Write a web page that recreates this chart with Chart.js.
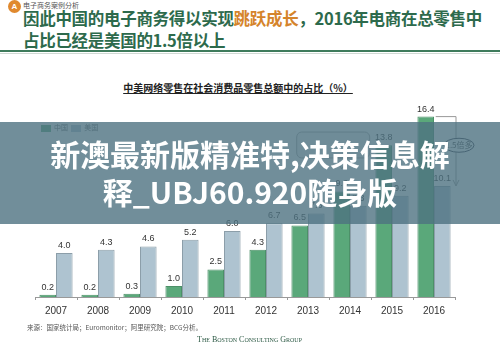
<!DOCTYPE html>
<html lang="zh">
  <head>
    <meta charset="UTF-8">
    <title>中美网络零售占比</title>
    <script src="https://cdn.jsdelivr.net/npm/chart.js"></script>
    <style>
      body { margin: 0; width: 500px; height: 346px; background: #fff; position: relative; overflow: hidden;
             font-family: "Liberation Sans", "Noto Sans CJK SC", sans-serif; }
      #badge { position: absolute; left: 8px; top: 0px; width: 13px; height: 13px; border-radius: 50%;
               background: #E0892E; color: #fff; font-size: 8px; font-weight: bold; text-align: center; line-height: 13px; }
      #kicker { position: absolute; left: 23px; top: 0px; font-size: 7px; color: #555; font-family: "Noto Sans CJK SC"; }
      #headline { position: absolute; left: 23px; top: 7px; font-size: 16.5px; line-height: 22px; font-weight: bold;
                  color: #2D6A4C; font-family: "Noto Sans CJK SC"; white-space: nowrap; letter-spacing: -0.3px; }
      #headline span { color: #D5842B; }
      #rule { position: absolute; left: 0; top: 50px; width: 500px; height: 2px; background: #3E7B5C; }
      #rule2 { position: absolute; left: 0; top: 53px; width: 500px; height: 1px; background: #cfd9d3; }
      #ctitle { position: absolute; left: 0; width: 476px; top: 80px; text-align: center; font-size: 10px; font-weight: bold;
                color: #222; text-decoration: underline; font-family: "Noto Sans CJK SC"; }
      #legend { position: absolute; left: 41px; top: 122px; font-size: 7px; color: #666; font-family: "Noto Sans CJK SC"; }
      #legend i { display: inline-block; width: 10px; height: 7px; vertical-align: middle; margin-right: 3px; }
      #wrap { position: absolute; left: 0; top: 90px; width: 500px; height: 235px; }
      #source { position: absolute; left: 27px; top: 322px; font-size: 6.5px; color: #555; font-family: "Noto Sans CJK SC"; }
      #bcg { position: absolute; left: 197px; top: 335px; font-size: 8px; color: #2D5A45; font-variant: small-caps;
             font-family: "Liberation Serif", serif; }
      #banner { position: absolute; left: 0; top: 122px; width: 500px; height: 102px; background: rgba(78,114,129,0.8);
                color: #fff; font-weight: bold; font-size: 30px; line-height: 38px; text-align: center;
                font-family: "Noto Sans CJK SC"; padding-top: 12px; box-sizing: border-box; }
    </style>
  </head>

  <body>
    <div id="badge">A</div>
    <div id="kicker">电子商务案例分析</div>
    <div id="headline">因此中国的电子商务得以实现<span>跳跃成长</span>，2016年电商在总零售中<br>占比已经是美国的1.5倍以上</div>
    <div id="rule"></div>
    <div id="rule2"></div>
    <div id="ctitle">中美网络零售在社会消费品零售总额中的占比（%）</div>
    <div id="wrap"><canvas id="chart"></canvas></div>
    <div id="legend"><i style="background:#5AA87A"></i>中国 &nbsp;<i style="background:#AEC3D0"></i>美国</div>
    <div id="source">来源：国家统计局；Euromonitor；阿里研究院；BCG分析。</div>
    <div id="bcg">The Boston Consulting Group</div>
    <div id="banner">新澳最新版精准特,决策信息解<br>释_UBJ60.920随身版</div>

    <script>
      var years = ["2007", "2008", "2009", "2010", "2011", "2012", "2013", "2014", "2015", "2016"];
      var china = [0.2, 0.2, 0.3, 1.0, 2.5, 4.3, 6.5, 9.6, 13.8, 16.4];
      var usa = [4.0, 4.3, 4.6, 5.2, 6.0, 6.7, 7.6, 8.3, 9.2, 10.1];
      var seriesNames = ["中国", "美国"];

      // value labels above each bar
      var valueLabels = {
        id: 'valueLabels',
        afterDatasetsDraw(chart) {
          var ctx = chart.ctx;
          ctx.save();
          ctx.font = '9px "Liberation Sans", sans-serif';
          ctx.fillStyle = '#333';
          ctx.textAlign = 'center';
          ctx.textBaseline = 'bottom';
          chart.data.datasets.forEach(function (ds, i) {
            chart.getDatasetMeta(i).data.forEach(function (bar, j) {
              ctx.fillText(ds.data[j].toFixed(1), bar.x, bar.y - 3);
            });
          });
          ctx.restore();
        }
      };

      // callout over 2014 and the 1.5倍 arrow on the right
      var notes = {
        id: 'notes',
        afterDatasetsDraw(chart) {
          var ctx = chart.ctx;
          var y = chart.scales.y;
          ctx.save();

          // callout bubble pointing at 2014
          var b14 = chart.getDatasetMeta(0).data[7];
          var bx = b14.x - 45, by = y.getPixelForValue(15), bw = 73, bh = 26;
          ctx.fillStyle = '#f2f2f2';
          ctx.strokeStyle = '#aaa';
          ctx.beginPath();
          ctx.roundRect(bx, by, bw, bh, 5);
          ctx.fill(); ctx.stroke();
          ctx.beginPath();
          ctx.moveTo(b14.x - 6, by + bh); ctx.lineTo(b14.x, by + bh + 11); ctx.lineTo(b14.x + 6, by + bh);
          ctx.closePath();
          ctx.fill(); ctx.stroke();

          var top = y.getPixelForValue(china[9]);
          var bot = y.getPixelForValue(usa[9]);
          var bar = chart.getDatasetMeta(0).data[9];
          var x = chart.chartArea.right + 1;
          ctx.strokeStyle = '#999';
          ctx.lineWidth = 1;
          ctx.beginPath();
          ctx.moveTo(bar.x + 10, top); ctx.lineTo(x, top);
          ctx.moveTo(x, top); ctx.lineTo(x, bot);
          ctx.stroke();
          ctx.beginPath();
          ctx.moveTo(x - 3, bot - 6); ctx.lineTo(x, bot); ctx.lineTo(x + 3, bot - 6);
          ctx.stroke();
          ctx.strokeStyle = '#334';
          ctx.beginPath();
          ctx.ellipse(x + 3, (top + bot) / 2 - 6, 15, 7, 0, 0, Math.PI * 2);
          ctx.fillStyle = '#fff';
          ctx.fill();
          ctx.stroke();
          ctx.fillStyle = '#444';
          ctx.font = '8px "Noto Sans CJK SC"';
          ctx.textAlign = 'center';
          ctx.textBaseline = 'middle';
          ctx.fillText('1.5倍多', x + 3, (top + bot) / 2 - 6);
          ctx.restore();
        }
      };

      new Chart(document.getElementById('chart'), {
        type: 'bar',
        data: {
          labels: years,
          datasets: [
            { label: seriesNames[0], data: china, backgroundColor: '#5AA87A', borderColor: '#4C9068', borderWidth: 1 },
            { label: seriesNames[1], data: usa, backgroundColor: '#AEC3D0', borderColor: '#8C9EA9', borderWidth: 1 }
          ]
        },
        options: {
          responsive: true,
          maintainAspectRatio: false,
          animation: false,
          categoryPercentage: 0.79,
          barPercentage: 1.0,
          layout: { padding: { left: 35, right: 45, top: 9, bottom: 0 } },
          plugins: {
            legend: { display: false },
            tooltip: { enabled: false }
          },
          scales: {
            x: {
              afterFit(scale) { scale.height = 28; },
              grid: { drawOnChartArea: false, drawTicks: true, tickLength: 3, color: '#999' },
              border: { color: '#999' },
              ticks: { color: '#333', font: { size: 10, family: '"Liberation Sans"' }, padding: 5 }
            },
            y: { display: false, min: 0, max: 18 }
          }
        },
        plugins: [valueLabels, notes]
      });
    </script>
  </body>
</html>
